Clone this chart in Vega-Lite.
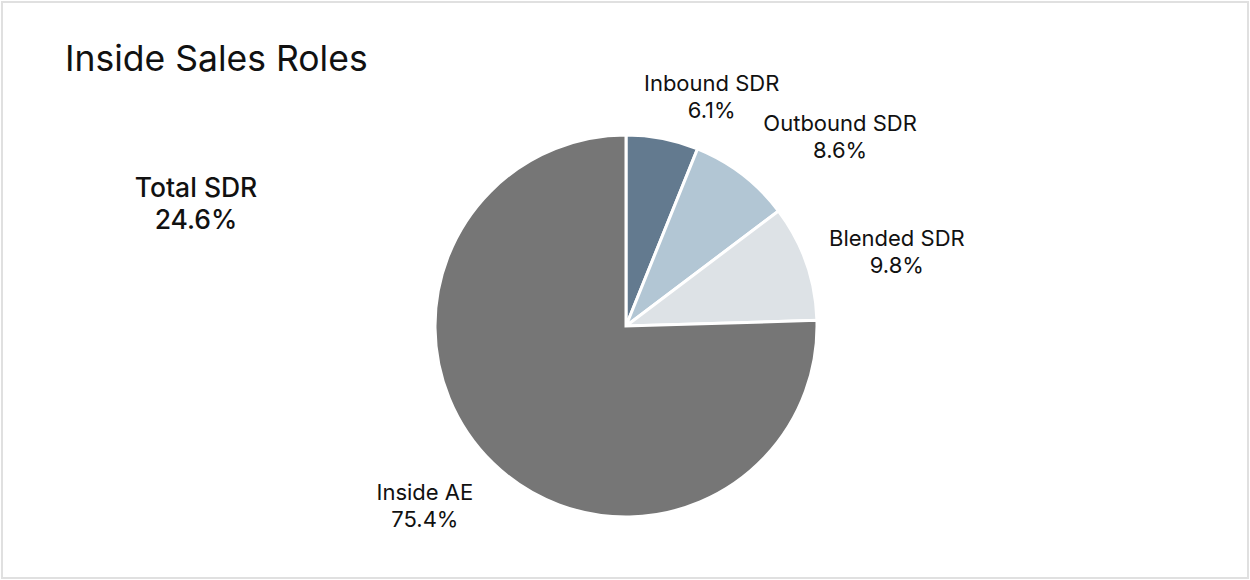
{
  "$schema": "https://vega.github.io/schema/vega-lite/v6.json",
  "width": 1250,
  "height": 580,
  "autosize": {"type": "fit", "contains": "padding"},
  "padding": 2,
  "background": "white",
  "view": {"stroke": "#e0e0e0", "strokeWidth": 2, "fill": "white"},
  "config": {
    "view": {"stroke": "#e0e0e0", "strokeWidth": 2},
    "font": "Inter"
  },
  "title": {
    "text": "Inside Sales Roles",
    "anchor": "start",
    "frame": "group",
    "orient": "top",
    "offset": -104,
    "dx": 63,
    "baseline": "alphabetic",
    "fontSize": 35.5,
    "fontWeight": "normal",
    "color": "#111111",
    "font": "Inter"
  },
  "datasets": {
    "roles": [
      {"idx": 1, "role": "Inbound SDR", "share": 6.1},
      {"idx": 2, "role": "Outbound SDR", "share": 8.6},
      {"idx": 3, "role": "Blended SDR", "share": 9.8},
      {"idx": 4, "role": "Inside AE", "share": 75.4}
    ],
    "total": [
      {"group": "Total SDR", "share": 24.6}
    ]
  },
  "layer": [
    {
      "data": {"name": "roles"},
      "mark": {"type": "arc", "outerRadius": 191, "stroke": "white", "strokeWidth": 3, "yOffset": 36, "xOffset": 1},
      "encoding": {
        "theta": {"field": "share", "type": "quantitative", "stack": true},
        "order": {"field": "idx", "type": "quantitative"},
        "color": {
          "field": "role",
          "type": "nominal",
          "scale": {
            "domain": ["Inbound SDR", "Outbound SDR", "Blended SDR", "Inside AE"],
            "range": ["#637a8f", "#b2c6d4", "#dde2e6", "#767676"]
          },
          "legend": null
        }
      }
    },
    {
      "data": {"name": "roles"},
      "transform": [
        {"calculate": "[datum.role, format(datum.share, '.1f') + '%']", "as": "label"}
      ],
      "mark": {
        "type": "text",
        "radius": 250,
        "yOffset": 36,
        "xOffset": 1,
        "fontSize": 22,
        "lineHeight": 27,
        "color": "#111111",
        "align": "center",
        "baseline": "middle",
        "dx": {"expr": "datum.role === 'Inbound SDR' ? 38 : datum.role === 'Outbound SDR' ? 62 : datum.role === 'Blended SDR' ? 35 : -27"},
        "dy": {"expr": "datum.role === 'Inbound SDR' ? 3 : datum.role === 'Outbound SDR' ? -4 : datum.role === 'Blended SDR' ? -4 : -12"}
      },
      "encoding": {
        "theta": {"field": "share", "type": "quantitative", "stack": true},
        "order": {"field": "idx", "type": "quantitative"},
        "text": {"field": "label"}
      }
    },
    {
      "data": {"name": "total"},
      "transform": [
        {"calculate": "[datum.group, format(datum.share, '.1f') + '%']", "as": "label"}
      ],
      "mark": {
        "type": "text",
        "fontSize": 26.5,
        "fontWeight": 500,
        "lineHeight": 32,
        "color": "#111111",
        "align": "center",
        "baseline": "middle",
        "xOffset": -429,
        "yOffset": -101
      },
      "encoding": {
        "text": {"field": "label"}
      }
    }
  ]
}
